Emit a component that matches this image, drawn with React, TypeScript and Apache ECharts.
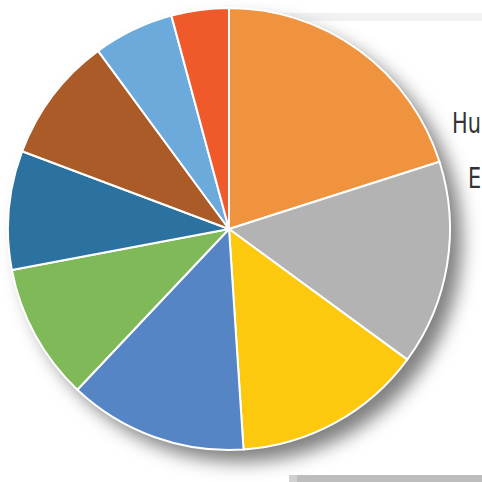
import React, { useEffect, useRef } from "react";
import * as echarts from "echarts";

const categories = ["A", "B", "C", "D", "E", "F", "G", "H", "I"];
const values = [20.1, 15.0, 13.9, 13.1, 10.0, 8.7, 9.2, 5.9, 4.2];
const colors = ["#F0933F", "#B3B3B3", "#FDC90E", "#5585C5", "#80B958", "#2C72A1", "#AB5B27", "#6BAADA", "#F05A2A"];
const sideLabels = ["Hu", "E"];

export default function App() {
  const ref = useRef<HTMLDivElement>(null);
  useEffect(() => {
    const chart = echarts.init(ref.current!, null, { renderer: "svg" });
    const labelStyle = { fill: "#333333", fontSize: 29, fontFamily: "DejaVu Sans", textVerticalAlign: "middle" };
    chart.setOption({
      animation: false,
      backgroundColor: "#ffffff",
      graphic: [
        { type: "rect", z: 0, shape: { x: 230, y: 13, width: 260, height: 8 }, style: { fill: "#F2F2F2" } },
        { type: "rect", z: 0, shape: { x: 289, y: 475, width: 200, height: 10 }, style: { fill: "#BDBDBD" } },
        { type: "rect", z: 0, shape: { x: 289, y: 475, width: 8, height: 10 }, style: { fill: "#D0D0D0" } },
        { type: "text", z: 5, x: 452, y: 123, scaleX: 0.72, style: { ...labelStyle, text: sideLabels[0] } },
        { type: "text", z: 5, x: 468, y: 178, scaleX: 0.72, style: { ...labelStyle, text: sideLabels[1] } },
      ],
      series: [
        {
          type: "pie",
          z: 1,
          silent: true,
          center: [229, 229],
          radius: 221,
          label: { show: false },
          labelLine: { show: false },
          data: [{ value: 1, name: "shadow" }],
          itemStyle: {
            color: "#ffffff",
            shadowBlur: 18,
            shadowOffsetX: 12,
            shadowOffsetY: 12,
            shadowColor: "rgba(0,0,0,0.5)",
          },
        },
        {
          type: "pie",
          z: 2,
          center: [229, 229],
          radius: 221,
          startAngle: 90,
          clockwise: true,
          label: { show: false },
          labelLine: { show: false },
          itemStyle: { borderColor: "#ffffff", borderWidth: 2 },
          data: categories.map((c, i) => ({ name: c, value: values[i], itemStyle: { color: colors[i] } })),
        },
      ],
    });
    return () => chart.dispose();
  }, []);
  return <div ref={ref} style={{ position: "absolute", left: 0, top: 0, width: 482, height: 482 }} />;
}
